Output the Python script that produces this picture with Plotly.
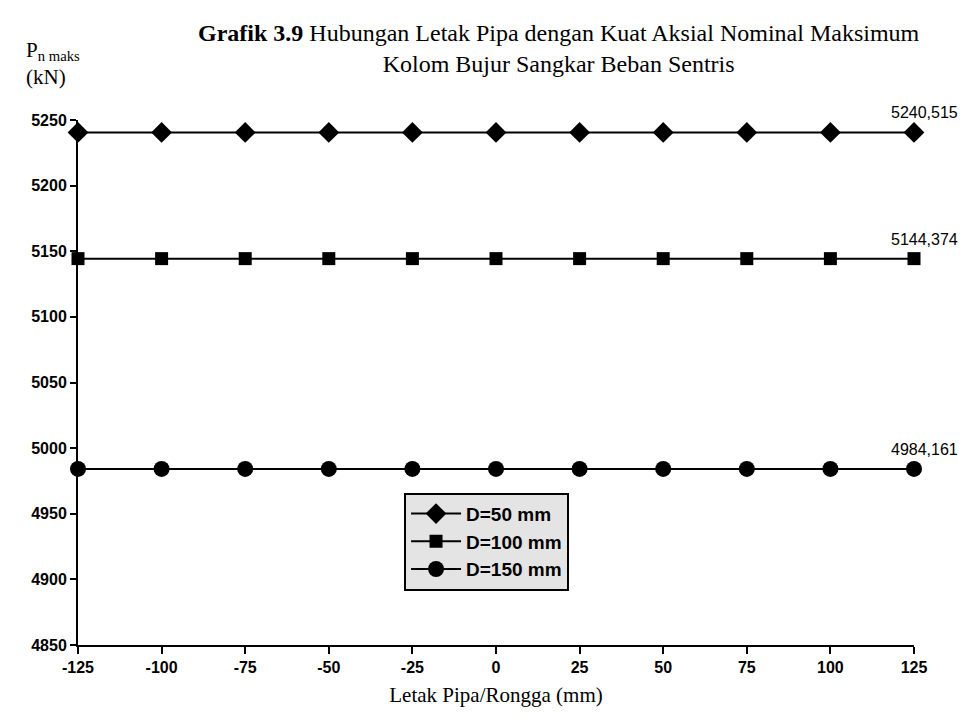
import plotly.graph_objects as go

letak = [-125, -100, -75, -50, -25, 0, 25, 50, 75, 100, 125]
d50 = [5240.515] * 11
d100 = [5144.374] * 11
d150 = [4984.161] * 11
series_names = ["D=50 mm", "D=100 mm", "D=150 mm"]
end_labels = ["5240,515", "5144,374", "4984,161"]
x_ticks = [-125, -100, -75, -50, -25, 0, 25, 50, 75, 100, 125]
y_ticks = [4850, 4900, 4950, 5000, 5050, 5100, 5150, 5200, 5250]

symbols = ["diamond", "square", "circle"]
sizes = [16, 13, 16]

fig = go.Figure()
for name, ys, sym, sz in zip(series_names, [d50, d100, d150], symbols, sizes):
    fig.add_trace(go.Scatter(
        x=letak, y=ys, name=name, mode="lines+markers",
        line=dict(color="black", width=2),
        marker=dict(symbol=sym, size=sz, color="black"),
        cliponaxis=False,
    ))

for ys, lab in zip([d50, d100, d150], end_labels):
    fig.add_annotation(x=letak[-1], y=ys[-1], text=lab, showarrow=False,
                       xanchor="center", yanchor="bottom", yshift=9, xshift=10,
                       font=dict(family="Liberation Sans", size=16, color="black"))

fig.update_layout(
    width=973, height=728,
    paper_bgcolor="white", plot_bgcolor="white",
    margin=dict(l=70, r=67, t=112, b=91),
    showlegend=True,
    legend=dict(x=0.39, y=0.29, xanchor="left", yanchor="top",
                bgcolor="#e4e4e4", bordercolor="black", borderwidth=2,
                font=dict(family="Liberation Sans", size=19, color="black", weight="bold"),
                itemwidth=50, tracegroupgap=0),
    font=dict(family="Liberation Sans", color="black"),
)

fig.update_xaxes(range=[-125, 125], tickvals=x_ticks, ticktext=[str(v) for v in x_ticks],
                 showline=True, linecolor="black", linewidth=2, showgrid=False, zeroline=False,
                 ticks="outside", ticklen=7, tickwidth=2, tickcolor="black",
                 tickfont=dict(family="Liberation Sans", size=16, weight="bold"),
                 title=dict(text="Letak Pipa/Rongga (mm)", font=dict(family="Liberation Serif", size=21), standoff=12))
fig.update_yaxes(range=[4850, 5250], tickvals=y_ticks, ticktext=[str(v) for v in y_ticks],
                 showline=True, linecolor="black", linewidth=2, showgrid=False, zeroline=False,
                 ticks="outside", ticklen=6, tickwidth=2, tickcolor="black",
                 tickfont=dict(family="Liberation Sans", size=16, weight="bold"))

fig.add_annotation(xref="paper", yref="paper", x=0.575, y=1, yshift=102, xanchor="center", yanchor="top",
                   text="<b>Grafik 3.9</b> Hubungan Letak Pipa dengan Kuat Aksial Nominal Maksimum<br>Kolom Bujur Sangkar Beban Sentris",
                   showarrow=False, align="center",
                   font=dict(family="Liberation Serif", size=24, color="black"))
fig.add_annotation(xref="paper", yref="paper", x=0, y=1, xshift=-54, yshift=84, xanchor="left", yanchor="top",
                   text="P<sub>n maks</sub><br>(kN)", showarrow=False, align="left",
                   font=dict(family="Liberation Serif", size=21, color="black"))

fig.write_html("out.html")
